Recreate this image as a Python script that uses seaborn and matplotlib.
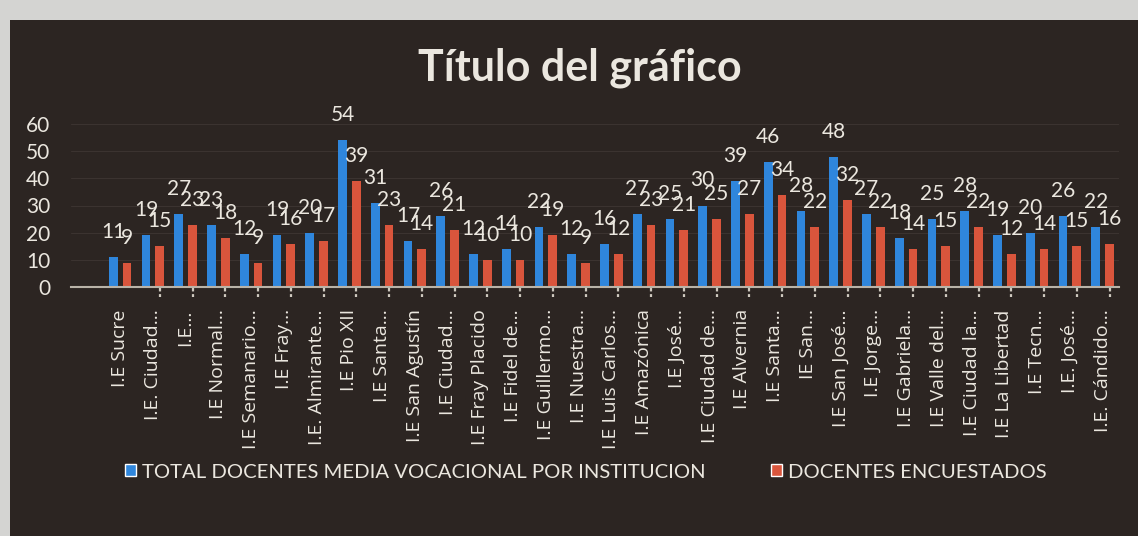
import matplotlib
matplotlib.use("Agg")
import matplotlib.pyplot as plt
from matplotlib.patches import Rectangle, Patch
import seaborn as sns
import pandas as pd

categories = [
    "I.E Sucre", "I.E. Ciudad...", "I.E...", "I.E Normal...", "I.E Semanario...",
    "I.E Fray...", "I.E. Almirante...", "I.E Pio XII", "I.E Santa...", "I.E San Agustín",
    "I.E Ciudad...", "I.E Fray Placido", "I.E Fidel de...", "I.E Guillermo...", "I.E Nuestra...",
    "I.E Luis Carlos...", "I.E Amazónica", "I.E José...", "I.E Ciudad de...", "I.E Alvernia",
    "I.E Santa...", "IE San...", "I.E San José...", "I.E Jorge...", "I.E Gabriela...",
    "I.E Valle del...", "I.E Ciudad la...", "I.E La Libertad", "I.E Tecn...", "I.E. José...",
    "I.E. Cándido...",
]
total_docentes = [11, 19, 27, 23, 12, 19, 20, 54, 31, 17, 26, 12, 14, 22, 12, 16, 27, 25, 30, 39,
                  46, 28, 48, 27, 18, 25, 28, 19, 20, 26, 22]
docentes_encuestados = [9, 15, 23, 18, 9, 16, 17, 39, 23, 14, 21, 10, 10, 19, 9, 12, 23, 21, 25, 27,
                        34, 22, 32, 22, 14, 15, 22, 12, 14, 15, 16]
series_names = ["TOTAL DOCENTES MEDIA VOCACIONAL POR INSTITUCION", "DOCENTES ENCUESTADOS"]
y_ticks = [0, 10, 20, 30, 40, 50, 60]

BG = "#2c2522"
TXT = "#ebe7df"
BLUE = "#2f86dc"
RED = "#d9553c"

sns.set_theme(style="dark")
plt.rcParams["font.family"] = ["Lato", "DejaVu Sans"]

idx = list(range(len(categories)))
df = pd.DataFrame({
    "pos": idx * 2,
    "valor": total_docentes + docentes_encuestados,
    "serie": [series_names[0]] * len(idx) + [series_names[1]] * len(idx),
})

fig = plt.figure(figsize=(11.38, 5.36), dpi=100)
fig.patch.set_facecolor("#d4d4d2")
fig.patches.append(Rectangle((10 / 1138, 0), 1, 1 - 20 / 536, transform=fig.transFigure,
                             facecolor=BG, edgecolor="none", zorder=-10))

ax = fig.add_axes([71 / 1138, 1 - 287 / 536, (1119 - 71) / 1138, (287 - 124) / 536])
ax.set_facecolor("none")
ax.set_zorder(5)

sns.barplot(data=df, x="pos", y="valor", hue="serie", palette=[BLUE, RED],
            width=0.84, gap=0.35, ax=ax, legend=False, saturation=1, linewidth=0)

for container, vals in zip(ax.containers, [total_docentes, docentes_encuestados]):
    for bar, v in zip(container, vals):
        ax.annotate(str(v), (bar.get_x() + bar.get_width() / 2, bar.get_height()),
                    xytext=(0, 18), textcoords="offset points", ha="center", va="center",
                    fontsize=15, color=TXT, annotation_clip=False)

# small tick marks below the axis line, under the second-series bars
red_centers = [b.get_x() + b.get_width() / 2 for b in ax.containers[1]][1:]
ax.vlines(red_centers, 0, -0.06, transform=ax.get_xaxis_transform(), colors="#cfc9bf",
          linewidth=1.6, linestyles=(0, (2, 1.2)), clip_on=False)

ax.set_ylim(0, 60)
ax.set_xlim(-1.5, len(categories) - 0.5)
ax.set_yticks(y_ticks)
ax.set_yticklabels([str(t) for t in y_ticks], fontsize=15, color=TXT)
ax.set_xticks(idx)
ax.set_xticklabels(categories, rotation=90, fontsize=14, color=TXT,
                   family=["Open Sans", "DejaVu Sans"])
ax.tick_params(axis="y", length=0, pad=15)
ax.tick_params(axis="x", length=0, pad=16)
ax.set_xlabel("")
ax.set_ylabel("")
ax.grid(axis="y", color="#3b3330", linewidth=0.8)
ax.grid(axis="x", visible=False)
for s in ["top", "right", "left"]:
    ax.spines[s].set_visible(False)
ax.spines["bottom"].set_color("#b9b3a8")
ax.spines["bottom"].set_linewidth(1.5)
ax.set_axisbelow(True)

fig.text(580 / 1138, 1 - 68 / 536, "Título del gráfico", ha="center", va="center",
         fontsize=31, fontweight="bold", color=TXT)

handles = [Patch(facecolor=BLUE), Patch(facecolor=RED)]
fig.legend(handles, series_names, loc="center", bbox_to_anchor=(586 / 1138, 1 - 472 / 536),
           ncol=2, frameon=False, fontsize=14.6, labelcolor=TXT, handlelength=0.55,
           handleheight=0.55, handletextpad=0.3, columnspacing=3.2)

fig.savefig("out.png", dpi=100, facecolor=fig.get_facecolor())
